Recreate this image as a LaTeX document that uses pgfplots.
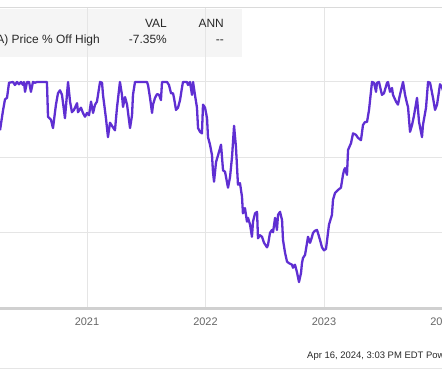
\documentclass[border=0pt]{standalone}
\usepackage{fontspec}
\setmainfont{Liberation Sans}
\usepackage{pgfplots}
\pgfplotsset{compat=1.18}
\definecolor{ln}{RGB}{95,47,210}
\definecolor{gridc}{RGB}{229,229,229}
\definecolor{axc}{RGB}{208,208,208}
\definecolor{topc}{RGB}{218,218,218}
\definecolor{legbg}{RGB}{245,245,245}
\definecolor{tickc}{RGB}{102,102,102}
\definecolor{txt}{RGB}{40,40,40}
\pgfplotstableread{
year val
2020.266 -6.4
2020.291 -3.8
2020.308 -2.3
2020.325 -2.1
2020.342 -0.1
2020.376 0
2020.392 -0.4
2020.409 0
2020.426 -0.3
2020.443 0
2020.460 -0.4
2020.468 0
2020.477 -1.3
2020.494 0
2020.511 0
2020.527 -1.3
2020.544 0
2020.561 -0.1
2020.578 0
2020.662 0
2020.671 -4.6
2020.696 -5.0
2020.713 -6.1
2020.738 -3.0
2020.755 -1.5
2020.772 -1.1
2020.789 -1.7
2020.814 -4.8
2020.840 0
2020.857 -2.6
2020.873 -4.0
2020.890 -3.7
2020.916 -2.8
2020.924 -4.0
2020.949 -3.4
2020.966 -4.1
2020.983 -4.6
2021.000 -4.1
2021.017 -4.4
2021.034 -2.6
2021.051 -4.1
2021.068 -3.0
2021.084 -2.6
2021.110 0
2021.127 -0.1
2021.135 -1.7
2021.160 -4.8
2021.177 -7.3
2021.194 -5.4
2021.219 -6.0
2021.236 -6.4
2021.253 -3.4
2021.278 0
2021.295 -1.7
2021.304 -3.3
2021.321 -2.0
2021.338 -3.0
2021.363 -6.1
2021.380 -4.4
2021.388 -1.7
2021.405 0
2021.506 0
2021.515 -0.4
2021.532 -2.1
2021.549 -4.1
2021.557 -3.0
2021.574 -2.1
2021.591 -1.6
2021.608 -1.7
2021.624 -2.4
2021.633 0
2021.675 0
2021.692 -0.4
2021.709 -1.5
2021.726 -1.5
2021.734 -2.1
2021.751 -3.7
2021.768 -3.4
2021.785 -2.4
2021.802 -0.7
2021.810 0
2021.844 0
2021.852 -0.4
2021.869 0
2021.886 -1.7
2021.895 0
2021.911 -1.7
2021.928 -3.4
2021.937 -6.1
2021.954 -6.6
2021.970 -6.8
2021.979 -3.0
2021.996 -3.4
2022.013 -4.8
2022.021 -7.3
2022.038 -8.3
2022.055 -9.7
2022.063 -11.9
2022.072 -13.2
2022.089 -10.6
2022.106 -9.7
2022.131 -8.3
2022.148 -11.7
2022.165 -11.9
2022.190 -14.0
2022.207 -12.6
2022.224 -9.9
2022.241 -5.8
2022.257 -8.6
2022.274 -13.6
2022.291 -13.4
2022.308 -15.2
2022.316 -17.4
2022.333 -16.7
2022.350 -18.5
2022.359 -18.0
2022.376 -18.9
2022.392 -20.5
2022.401 -18.5
2022.418 -17.4
2022.435 -17.2
2022.443 -20.7
2022.460 -20.3
2022.477 -20.5
2022.494 -21.3
2022.519 -21.9
2022.527 -21.6
2022.544 -20.0
2022.561 -19.6
2022.570 -19.9
2022.587 -18.0
2022.603 -19.6
2022.612 -17.6
2022.629 -17.2
2022.646 -18.3
2022.654 -20.9
2022.671 -22.6
2022.688 -23.8
2022.705 -24.0
2022.730 -24.2
2022.738 -24.6
2022.755 -24.2
2022.772 -25.2
2022.789 -26.5
2022.806 -25.3
2022.814 -24.0
2022.823 -23.3
2022.840 -22.9
2022.857 -21.3
2022.865 -20.5
2022.882 -21.3
2022.899 -20.5
2022.907 -20.0
2022.924 -19.7
2022.941 -19.6
2022.949 -20.0
2022.966 -20.9
2022.983 -21.9
2023.000 -22.3
2023.017 -22.1
2023.042 -18.9
2023.067 -17.6
2023.076 -15.6
2023.093 -14.7
2023.118 -14.3
2023.143 -14.0
2023.160 -12.3
2023.169 -11.7
2023.177 -11.4
2023.194 -12.3
2023.203 -9.0
2023.228 -8.1
2023.245 -6.8
2023.270 -7.0
2023.287 -7.4
2023.312 -7.7
2023.329 -5.7
2023.346 -5.3
2023.363 -5.3
2023.380 -3.7
2023.405 0
2023.422 -0.1
2023.439 -1.3
2023.447 -0.1
2023.464 0
2023.489 -1.7
2023.506 -1.5
2023.532 -0.1
2023.540 0
2023.557 -1.3
2023.574 -0.8
2023.582 -1.7
2023.608 -2.6
2023.624 -3.0
2023.641 -1.7
2023.667 0
2023.684 -1.7
2023.700 -2.8
2023.709 -3.3
2023.726 -6.6
2023.743 -5.7
2023.760 -4.4
2023.785 -2.1
2023.802 -5.3
2023.827 -7.3
2023.835 -5.7
2023.861 -3.4
2023.878 0
2023.895 -0.1
2023.920 -2.1
2023.937 -3.7
2023.954 -3.0
2023.979 -0.3
2023.996 -0.7
2024.030 -2.5
2024.100 -4.0
2024.200 -6.0
2024.290 -7.35
}\pricedata
\begin{document}
\begin{tikzpicture}
\useasboundingbox (0bp,0bp) rectangle (442bp,369bp);
\clip (0bp,0bp) rectangle (442bp,369bp);
\fill[legbg] (-20bp,312bp) rectangle (242bp,360bp);
\draw[topc, line width=1bp] (-5bp,361bp) -- (447bp,361bp);
\draw[gridc, line width=1bp] (-5bp,1bp) -- (447bp,1bp);
\begin{axis}[
  at={(-31.5bp,60.5bp)}, anchor=south west,
  scale only axis, width=533.25bp, height=300.5bp,
  xmin=2020, xmax=2024.5, ymin=-30, ymax=9.8,
  axis line style={draw=none},
  xtick={2021,2022,2023,2024},
  xticklabels={2021,2022,2023,2024},
  ytick={-30,-20,-10,0},
  yticklabels={},
  grid=major,
  major grid style={gridc, line width=1bp},
  major tick length=0pt,
  xticklabel style={font=\fontsize{11}{13}\selectfont, text=tickc, yshift=-5.5bp},
  clip=false,
]
\draw[axc, line width=2bp] (axis cs:2020,-30) -- (axis cs:2024.5,-30);
\addplot[ln, line width=2.3bp, line join=round, no marks] table[x=year, y=val] {\pricedata};
\end{axis}
\begin{scope}[every node/.style={inner sep=0pt, text=txt, font=\fontsize{12}{14}\selectfont}]
\node[anchor=base east] at (167bp,341.5bp) {VAL};
\node[anchor=base east] at (224bp,341.5bp) {ANN};
\node[anchor=base east] at (100bp,325.5bp) {Agilent Technologies Inc (A) Price \% Off High};
\node[anchor=base east] at (167bp,325.5bp) {-7.35\%};
\node[anchor=base east] at (224bp,325.5bp) {-{}-};
\end{scope}
\node[anchor=base west, inner sep=0pt, text=txt, font=\fontsize{9.5}{11}\selectfont] at (307bp,10.5bp) {Apr 16, 2024, 3:03 PM EDT Powered by YCHARTS};
\end{tikzpicture}
\end{document}
